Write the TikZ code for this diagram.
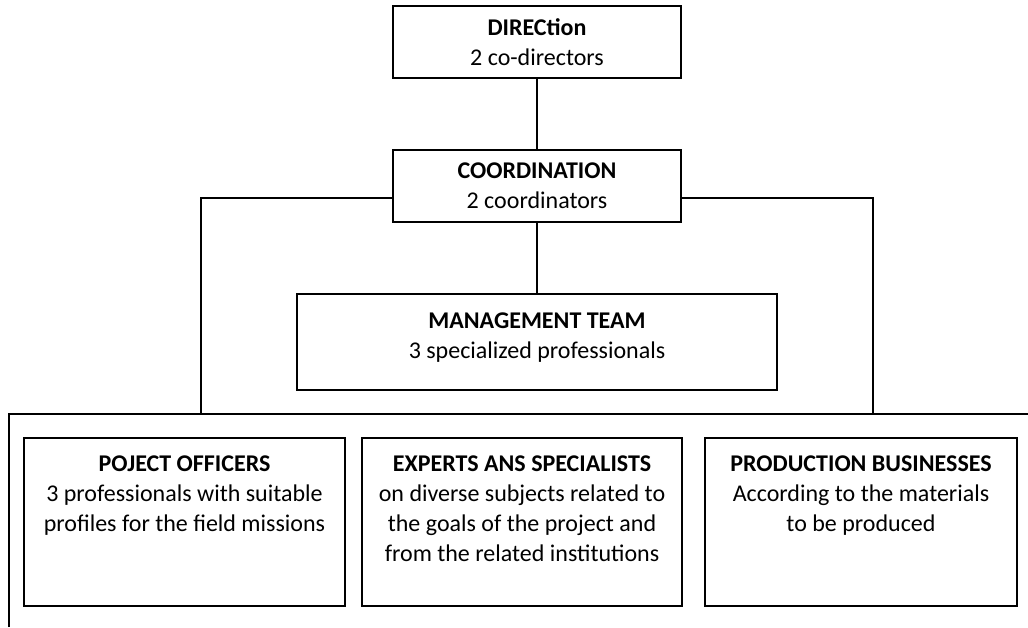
\documentclass[tikz,border=0pt]{standalone}
\usepackage{fontspec}
\setmainfont{Carlito}
\begin{document}
\begin{tikzpicture}[x=0.5pt,y=-0.5pt,
    box/.style={draw,line width=1pt,inner sep=0pt},
    txt/.style={align=center,inner sep=0pt,font=\fontsize{12}{15}\selectfont},
    link/.style={line width=1pt}]
\useasboundingbox (0,0) rectangle (1028,627);

% top of the chart
\node[box,txt,minimum width=144pt,minimum height=36pt] (dir) at (537,42)
    {\textbf{DIRECtion}\\2 co-directors};
\node[box,txt,minimum width=144pt,minimum height=36pt] (coord) at (537,186)
    {\textbf{COORDINATION}\\2 coordinators};
\node[box,minimum width=240pt,minimum height=48pt] (mgmt) at (537,342) {};
\node[txt,anchor=north] (mgmttxt) at ([yshift=-9.5pt]mgmt.north)
    {\textbf{MANAGEMENT TEAM}\\3 specialized professionals};

% bottom row
\node[box,minimum width=160.5pt,minimum height=84pt] (po) at (184.5,522) {};
\node[box,minimum width=160pt,minimum height=84pt] (exp) at (522,522) {};
\node[box,minimum width=156pt,minimum height=84pt] (prod) at (861,522) {};
\node[txt,anchor=north] (potxt) at ([yshift=-9.3pt]po.north)
    {\textbf{POJECT OFFICERS}\\3 professionals with suitable\\profiles for the field missions};
\node[txt,anchor=north] (exptxt) at ([yshift=-9.3pt]exp.north)
    {\textbf{EXPERTS ANS SPECIALISTS}\\on diverse subjects related to\\the goals of the project and\\from the related institutions};
\node[txt,anchor=north] (prodtxt) at ([yshift=-9.3pt]prod.north)
    {\textbf{PRODUCTION BUSINESSES}\\According to the materials\\to be produced};

% connectors
\coordinate (brl) at (201,414);
\coordinate (brr) at (873,414);
\coordinate (frmb) at (9,627);
\coordinate (frml) at (9,414);
\coordinate (frmr) at (1028,414);
\draw[link] (dir) -- (coord);
\draw[link] (coord) -- (mgmt);
\draw[link] ([yshift=-6.2pt]coord.west) -| (brl);
\draw[link] ([yshift=-6.2pt]coord.east) -| (brr);
\draw[link] (frmb) -- (frml) -- (frmr);

\end{tikzpicture}
\end{document}
